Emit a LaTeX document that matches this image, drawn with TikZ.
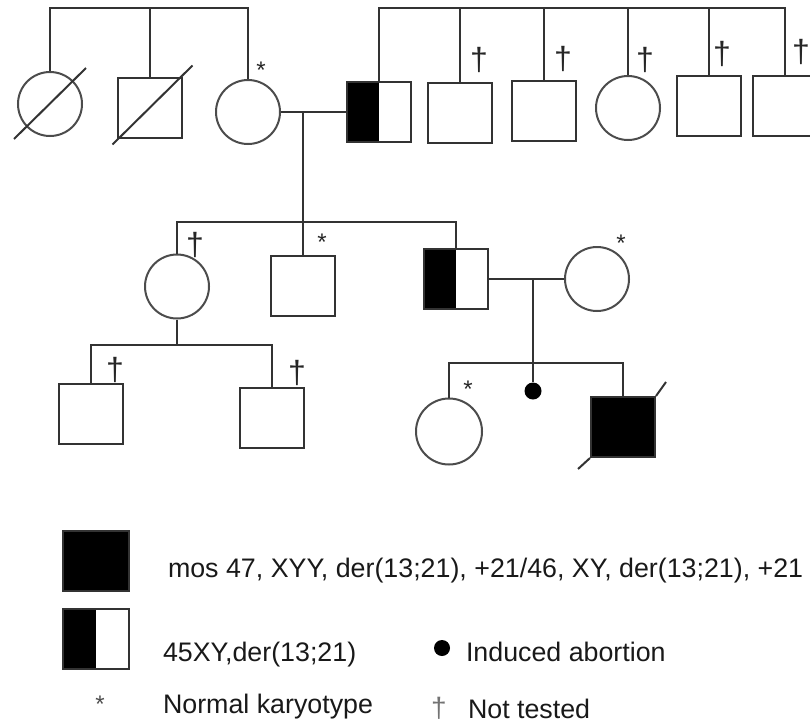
\documentclass[tikz,border=0pt]{standalone}
\usepackage{fontspec}
\setmainfont{Liberation Sans}

\begin{document}
\begin{tikzpicture}[
    x=1pt, y=-1pt,
    line width=2pt,
    every node/.style={inner sep=0pt},
    male/.style={
      draw=black!80,
      minimum width=64pt,
      minimum height=60pt
    },
    female/.style={
      draw=black!70,
      circle,
      minimum size=64pt
    },
    carrier/.style={
      male,
      path picture={\fill[black] (path picture bounding box.south west) rectangle (path picture bounding box.north);}
    },
    affected/.style={male, fill=black},
    abortion/.style={circle, fill=black, minimum size=17pt},
    nottested/.style={font=\fontsize{32}{32}\selectfont, text=black!85},
    normal/.style={font=\fontsize{24}{24}\selectfont, text=black!85},
    legendtext/.style={anchor=base west, font=\fontsize{26.8}{30}\selectfont, text=black!90},
    link/.style={draw=black!80},
]

\useasboundingbox (0,0) rectangle (810,723);

% Generation I, mother's side
\node[female] (ua) at (50,104) {};
\node[male] (ub) at (149.5,107.5) {};
\node[female] (mo) at (248,112) {};
\node[normal] (n-mo) at (261,70) {*};
\draw[link] ([shift={(-36,35)}]ua.center) -- ([shift={(36,-36)}]ua.center);
\draw[link] ([shift={(-37,37)}]ub.center) -- ([shift={(43,-42)}]ub.center);

% Generation I, father's side
\node[carrier] (fa) at (378.5,112) {};
\node[male] (s2) at (460,112.5) {};
\node[male] (s3) at (543.5,110.5) {};
\node[female] (s4) at (628,108) {};
\node[male] (s5) at (709,105.5) {};
\node[male] (s6) at (785,105.5) {};
\node[nottested] (t-s2) at (479,60) {†};
\node[nottested] (t-s3) at (563,59) {†};
\node[nottested] (t-s4) at (645,60) {†};
\node[nottested] (t-s5) at (722,54) {†};
\node[nottested] (t-s6) at (801,52) {†};

% Sibship lines
\coordinate (bar1) at (0,8);
\draw[link] (ua.north) |- (mo.north |- bar1) -- (mo.north);
\draw[link] (ub.north) -- (ub.north |- bar1);
\draw[link] (fa.north) |- (s6.north |- bar1) -- (s6.north);
\foreach \n in {s2,s3,s4,s5}
  \draw[link] (\n.north) -- (\n.north |- bar1);

% First couple
\draw[link] (mo.east) -- (fa.west);
\coordinate (m1) at (303,112);

% Generation II
\coordinate (bar2) at (0,222);
\node[female] (d1) at (177,286.5) {};
\node[male] (so) at (303,286) {};
\node[carrier] (pb) at (456,279) {};
\node[female] (wi) at (597,279) {};
\node[nottested] (t-d1) at (195,245) {†};
\node[normal] (n-so) at (322,242) {*};
\node[normal] (n-wi) at (621,243) {*};

\draw[link] (m1) -- (m1 |- bar2);
\draw[link] (d1.north) |- (pb.north |- bar2) -- (pb.north);
\draw[link] (so.north) -- (so.north |- bar2);

% Second couple
\draw[link] (pb.east) -- (wi.west);
\coordinate (m2) at (533,279);

% Generation III, left
\coordinate (bar3) at (0,345);
\node[male] (g1) at (91,414) {};
\node[male] (g2) at (272,418) {};
\node[nottested] (t-g1) at (115,370) {†};
\node[nottested] (t-g2) at (297,373) {†};
\draw[link] (d1.south) -- (d1.south |- bar3);
\draw[link] (g1.north) |- (g2.north |- bar3) -- (g2.north);

% Generation III, right
\coordinate (bar4) at (0,363);
\node[female, minimum size=66pt] (c1) at (449,431.5) {};
\node[abortion] (ab) at (533,391) {};
\node[affected] (pr) at (623,427) {};
\node[normal] (n-c1) at (468,389) {*};
\draw[link] (m2) -- (m2 |- bar4);
\draw[link] (c1.north) |- (pr.north |- bar4) -- (pr.north);
\draw[link] (ab.north) -- (ab.north |- bar4);
\draw[link] ([shift={(-12,11)}]pr.south west) -- (pr.south west);
\draw[link] (pr.north east) -- ([shift={(10,-14)}]pr.north east);

% Legend
\node[affected, minimum width=66pt] (keyaff) at (96,561) {};
\node[carrier, minimum width=66pt] (keycar) at (96,639) {};
\node[normal, text=black!70] (keynorm) at (100,704) {*};
\node[abortion, minimum size=16pt] (keyab) at (442,648) {};
\node[nottested, font=\fontsize{28}{28}\selectfont, text=black!55] (keynt) at (439,708) {†};

\node[legendtext] (txtaff) at (167,577) {mos 47, XYY, der(13;21), +21/46, XY, der(13;21), +21};
\node[legendtext] (txtcar) at (162,661) {45XY,der(13;21)};
\node[legendtext] (txtnorm) at (162,713) {Normal karyotype};
\node[legendtext] (txtab) at (465,661) {Induced abortion};
\node[legendtext] (txtnt) at (467,718) {Not tested};

\end{tikzpicture}
\end{document}
